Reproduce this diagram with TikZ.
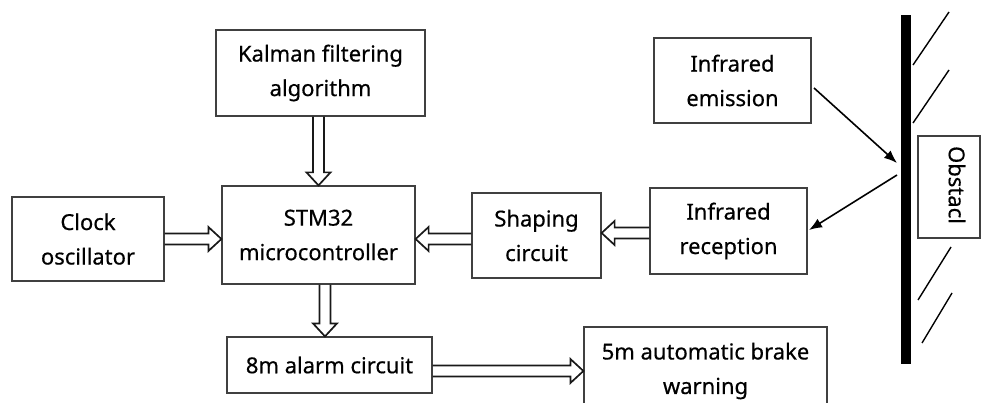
\documentclass[tikz,border=0pt]{standalone}
\usepackage{fontspec}
\setmainfont{Noto Sans}[FakeBold=0.5]
\usetikzlibrary{calc,arrows.meta}
\begin{document}
\begin{tikzpicture}[x=1pt,y=-1pt,
  box/.style={draw=black!75, line width=1.2pt, align=center, inner sep=0pt,
    font=\fontsize{22}{34.5}\selectfont},
  hollow/.style={draw=black!90, line width=1.7pt, line join=miter,
    to path={
      ($(\tikztotarget)!13pt!(\tikztostart)$) coordinate (hb)
      ($(\tikztostart)!5.5pt!90:(\tikztotarget)$)
      -- ($(hb)!5.5pt!-90:(\tikztostart)$)
      -- ($(hb)!12pt!-90:(\tikztostart)$)
      -- (\tikztotarget)
      -- ($(hb)!12pt!90:(\tikztostart)$)
      -- ($(hb)!5.5pt!90:(\tikztostart)$)
      -- ($(\tikztostart)!5.5pt!-90:(\tikztotarget)$)
    }},
  ray/.style={draw=black, line width=1.6pt, -{Latex[length=13pt,width=10pt]}},
  hatch/.style={draw=black, line width=1.4pt}
]
\useasboundingbox (0,0) rectangle (981,403);
\clip (0,0) rectangle (981,403);

% boxes
\node[box, minimum width=209pt, minimum height=86pt] (kal) at (320.5,73) {Kalman filtering\\algorithm};
\node[box, minimum width=193pt, minimum height=98pt] (stm) at (318.5,235) {STM32\\microcontroller};
\node[box, minimum width=152pt, minimum height=84pt] (clk) at (88,239) {Clock\\oscillator};
\node[box, minimum width=205pt, minimum height=56pt] (am) at (329.5,365) {8m alarm circuit};
\node[box, minimum width=157pt, minimum height=85pt] (emit) at (732.5,80.5) {Infrared\\emission};
\node[box, minimum width=129pt, minimum height=85pt] (shp) at (536.5,235.5) {Shaping\\circuit};
\node[box, minimum width=157pt, minimum height=86pt] (recv) at (728.5,231) {Infrared\\reception};
\node[box, minimum width=243pt, minimum height=88pt] (brake) at (705.5,371) {5m automatic brake\\warning};
\node[box, minimum width=62pt, minimum height=102pt] (obs) at (949,187) {};
\node[rotate=-90, inner sep=0pt, font=\fontsize{22}{34.5}\selectfont] (obstxt) at (957,185) {Obstacl};

% obstacle wall
\node[fill=black, draw=none, minimum width=10pt, minimum height=349pt, inner sep=0pt] (bar) at (906,189.5) {};
\draw[hatch] (913,65) -- (949,12);
\draw[hatch] (913,123) -- (949,70);
\draw[hatch] (918,300) -- (951,247);
\draw[hatch] (922,343) -- (952,293);

% infrared rays
\coordinate (e1) at (814,88);
\coordinate (h1) at (897,163);
\coordinate (h2) at (897,175);
\coordinate (r1) at (809,230);
\draw[ray] (e1) -- (h1);
\draw[ray] (h2) -- (r1);

% hollow block arrows
\draw[hollow] (kal.south -| stm.north) to (stm.north);
\draw[hollow] (clk.east) to (clk.east -| stm.west);
\coordinate (s1) at ([xshift=6.5pt]stm.south);
\draw[hollow] (s1) to (s1 |- am.north);
\coordinate (s2) at ([yshift=-3.5pt]shp.west);
\draw[hollow] (s2) to (s2 -| stm.east);
\coordinate (s3) at ([yshift=-2pt]recv.west);
\draw[hollow] (s3) to (s3 -| shp.east);
\coordinate (s4) at ([yshift=-6pt]am.east);
\draw[hollow] (s4) to (s4 -| brake.west);
\end{tikzpicture}
\end{document}
